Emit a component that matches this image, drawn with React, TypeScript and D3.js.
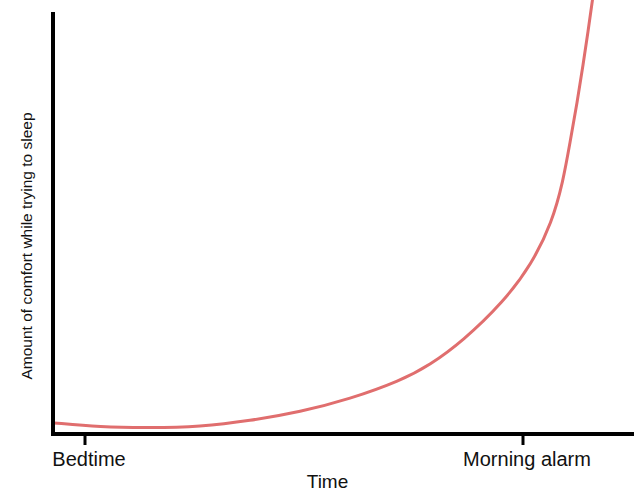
import React from "react";
import * as d3 from "d3";

// Time in hours after bedtime
const timeHours = [-0.57, 0.27, 1.19, 2.1, 3.01, 3.93, 4.84, 5.75, 6.3, 6.9, 7.64, 8.16, 8.53, 8.73, 8.86, 8.99, 9.1, 9.19, 9.26, 9.3];
// Comfort level (0-100)
const comfort = [2.4, 1.4, 1.2, 1.5, 2.9, 5.0, 8.1, 12.35, 16.15, 21.85, 31.1, 40.1, 50.1, 59.6, 69.1, 78.6, 87.65, 95.5, 102.1, 105.7];
const tickValues = [0, 8];
const tickLabels = ["Bedtime", "Morning alarm"];
const xLabel = "Time";
const yLabel = "Amount of comfort while trying to sleep";

const W = 640;
const H = 501;
const FONT = "'Liberation Sans', Arial, sans-serif";

export default function App() {
  const x = d3.scaleLinear().domain([0, 8]).range([85, 523]);
  const y = d3.scaleLinear().domain([0, 100]).range([433, 12]);
  const data = timeHours.map((t, i) => ({ t, c: comfort[i] }));
  const line = d3
    .line<{ t: number; c: number }>()
    .x((d) => x(d.t))
    .y((d) => y(d.c))
    .curve(d3.curveBasis);

  const axisX0 = 51;
  const axisX1 = 634;
  const axisY = 434;
  const yAxisX = 53;

  return (
    <svg
      width={W}
      height={H}
      style={{ position: "absolute", left: 0, top: 0, display: "block", background: "#fff" }}
    >
      <rect width={W} height={H} fill="#fff" />
      <path d={line(data) || ""} fill="none" stroke="#e06e6e" strokeWidth={3} />
      {/* y axis */}
      <line x1={yAxisX} x2={yAxisX} y1={12} y2={axisY + 2} stroke="#000" strokeWidth={4} />
      {/* x axis */}
      <line x1={axisX0} x2={axisX1} y1={axisY} y2={axisY} stroke="#000" strokeWidth={4} />
      {tickValues.map((v, i) => (
        <g key={i}>
          <line x1={x(v)} x2={x(v)} y1={axisY} y2={445} stroke="#000" strokeWidth={3} />
          <text
            x={x(v) + 4}
            y={466}
            textAnchor="middle"
            fontFamily={FONT}
            fontSize={20}
            fill="#111"
          >
            {tickLabels[i]}
          </text>
        </g>
      ))}
      <text x={327.5} y={488} textAnchor="middle" fontFamily={FONT} fontSize={19} fill="#111">
        {xLabel}
      </text>
      <text
        transform={`translate(32, 246) rotate(-90)`}
        textAnchor="middle"
        fontFamily={FONT}
        fontSize={15.5}
        fill="#111"
      >
        {yLabel}
      </text>
    </svg>
  );
}
